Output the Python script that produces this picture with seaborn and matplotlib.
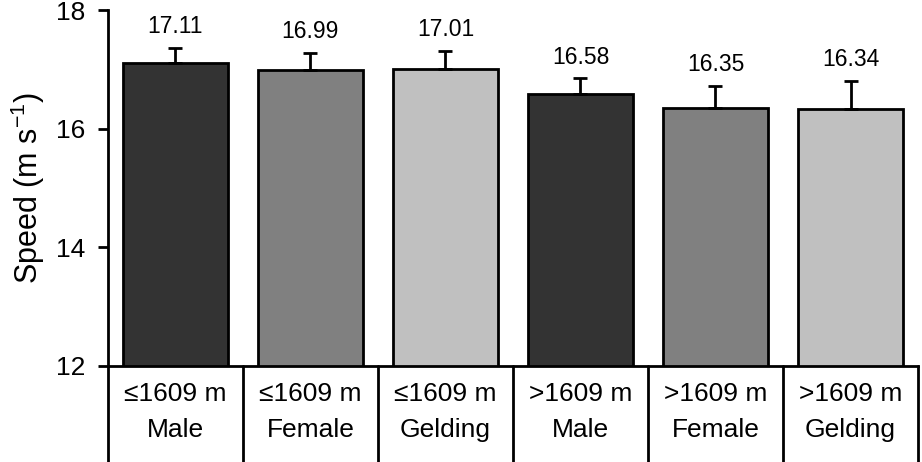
import matplotlib
matplotlib.use("Agg")
import matplotlib.pyplot as plt
import matplotlib.transforms as mtransforms
import seaborn as sns

# data
groups = ["\u22641609 m\nMale", "\u22641609 m\nFemale", "\u22641609 m\nGelding",
          ">1609 m\nMale", ">1609 m\nFemale", ">1609 m\nGelding"]
speed = [17.11, 16.99, 17.01, 16.58, 16.35, 16.34]
speed_err = [0.26, 0.29, 0.30, 0.27, 0.37, 0.47]
bar_colors = ["#333333", "#808080", "#c0c0c0", "#333333", "#808080", "#c0c0c0"]
y_ticks = [12, 14, 16, 18]

sns.set_style("ticks", {"axes.edgecolor": "black", "text.color": "black",
                        "xtick.color": "black", "ytick.color": "black",
                        "axes.labelcolor": "black"})
plt.rcParams["font.family"] = ["Liberation Sans", "DejaVu Sans"]
plt.rcParams["mathtext.fontset"] = "custom"
plt.rcParams["mathtext.rm"] = "Liberation Sans"
plt.rcParams["mathtext.it"] = "Liberation Sans:italic"

fig = plt.figure(figsize=(9.22, 4.62), dpi=100)
ax = fig.add_axes([0.117, 0.208, 0.8787, 0.770])

sns.barplot(x=groups, y=speed, hue=groups, palette=bar_colors, width=0.78,
            edgecolor="black", linewidth=2, legend=False, saturation=1, ax=ax)

# upper error bars only
xs = list(range(len(groups)))
ax.errorbar(xs, speed, yerr=[[0] * len(speed), speed_err], fmt="none",
            ecolor="black", elinewidth=2, capsize=5, capthick=2, zorder=3)

# value labels above error bars
for x, v, e in zip(xs, speed, speed_err):
    ax.annotate(f"{v:.2f}", xy=(x, v + e), xytext=(0, 7), textcoords="offset points",
                ha="center", va="bottom", fontsize=16.5, color="black")

ax.set_xlim(-0.5, 5.5)
ax.set_ylim(12, 18)
ax.set_yticks(y_ticks)
ax.tick_params(axis="y", length=7, width=2, labelsize=19, pad=9)
ax.tick_params(axis="x", length=0, labelsize=19, pad=11.5)
plt.setp(ax.get_xticklabels(), linespacing=1.65)
ax.set_ylabel("Speed (m s$^{-1}$)", fontsize=22, labelpad=7)

for s in ["top", "right"]:
    ax.spines[s].set_visible(False)
for s in ["left", "bottom"]:
    ax.spines[s].set_linewidth(2)

# separator lines under the axis between the category labels
trans = mtransforms.blended_transform_factory(ax.transData, ax.transAxes)
for xb in [i - 0.5 for i in range(len(groups) + 1)]:
    ax.plot([xb, xb], [0, -0.3], color="black", lw=2, transform=trans, clip_on=False)

fig.savefig("out.png", dpi=100)
